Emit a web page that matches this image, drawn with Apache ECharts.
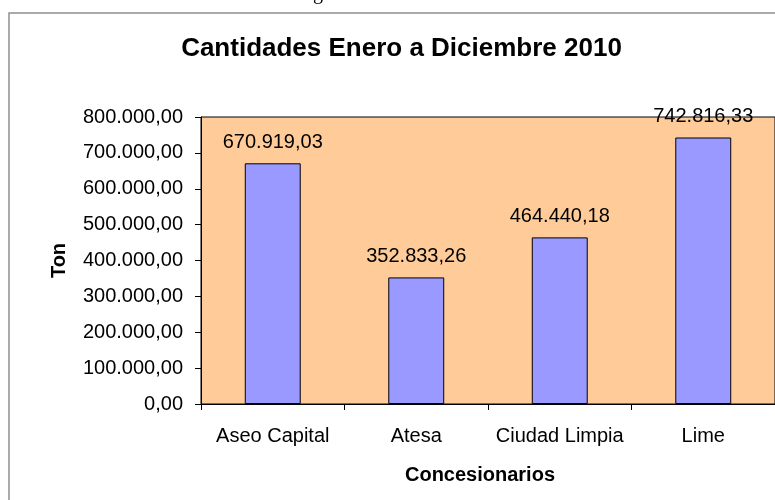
<!DOCTYPE html>
<html>
<head>
<meta charset="utf-8">
<script src="https://cdn.jsdelivr.net/npm/echarts@6/dist/echarts.min.js"></script>
<style>
html,body{margin:0;padding:0;background:#fff;}
#chart{width:775px;height:500px;}
</style>
</head>
<body>
<div id="chart"></div>
<script>
const categories = ['Aseo Capital', 'Atesa', 'Ciudad Limpia', 'Lime'];
const values = [670919.03, 352833.26, 464440.18, 742816.33];
const titleText = 'Cantidades Enero a Diciembre 2010';
const yAxisTitle = 'Ton';
const xAxisTitle = 'Concesionarios';
const yMin = 0, yMax = 800000, yStep = 100000;

function fmt(v) {
  const parts = Number(v).toFixed(2).split('.');
  const intPart = parts[0].replace(/\B(?=(\d{3})+(?!\d))/g, '.');
  return intPart + ',' + parts[1];
}

const FONT = "'Liberation Sans', Arial, sans-serif";
const chart = echarts.init(document.getElementById('chart'), null, {renderer: 'canvas'});
chart.setOption({
  backgroundColor: '#ffffff',
  animation: false,
  title: {
    text: titleText,
    left: 396.5,
    top: 31,
    textAlign: 'center',
    textStyle: {fontFamily: FONT, fontSize: 26, fontWeight: 'bold', color: '#000'}
  },
  graphic: [
    {
      type: 'rect', silent: true, z: -1,
      shape: {x: 9, y: 13, width: 790, height: 500},
      style: {fill: 'none', stroke: '#8f8f8f', lineWidth: 1.5}
    },
    {
      type: 'text', silent: true,
      style: {text: 'g', x: 318, y: 4, align: 'center', verticalAlign: 'bottom',
        font: "20px 'Liberation Serif', 'Times New Roman', serif", fill: '#000'}
    }
  ],
  grid: {
    left: 201, top: 117, width: 583, height: 287,
    show: true, backgroundColor: '#FFCC99', borderColor: '#000', borderWidth: 1,
    containLabel: false
  },
  xAxis: {
    type: 'category',
    data: categories,
    name: xAxisTitle,
    nameLocation: 'middle',
    nameGap: 61,
    nameTextStyle: {fontFamily: FONT, fontSize: 20, fontWeight: 'bold', color: '#000', padding: [0, 16, 0, 0]},
    axisLine: {show: true, lineStyle: {color: '#000', width: 1}},
    axisTick: {show: true, interval: 0, length: 6, lineStyle: {color: '#000'}},
    axisLabel: {interval: 0, fontFamily: FONT, fontSize: 20, color: '#000', margin: 22},
    splitLine: {show: false}
  },
  yAxis: {
    type: 'value',
    min: yMin, max: yMax, interval: yStep,
    name: yAxisTitle,
    nameLocation: 'middle',
    nameGap: 132,
    nameTextStyle: {fontFamily: FONT, fontSize: 20, fontWeight: 'bold', color: '#000'},
    axisLine: {show: true, lineStyle: {color: '#000', width: 1}},
    axisTick: {show: true, length: 6, lineStyle: {color: '#000'}},
    axisLabel: {fontFamily: FONT, fontSize: 20, color: '#000', margin: 18, formatter: v => fmt(v)},
    splitLine: {show: false}
  },
  series: [{
    type: 'bar',
    data: values,
    barWidth: '39%',
    itemStyle: {color: '#9999FF', borderColor: '#000', borderWidth: 1},
    label: {
      show: true, position: 'top', distance: 11,
      fontFamily: FONT, fontSize: 20, color: '#000',
      formatter: p => fmt(p.value)
    }
  }]
});
</script>
</body>
</html>
